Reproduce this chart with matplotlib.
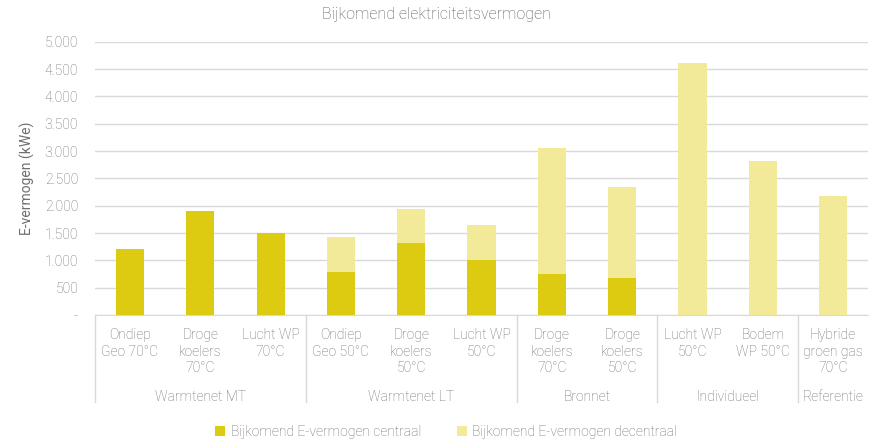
import matplotlib.pyplot as plt
import matplotlib.transforms as mtransforms
from matplotlib.ticker import FuncFormatter
import numpy as np

# data
categories = ["Ondiep\nGeo 70°C", "Droge\nkoelers\n70°C", "Lucht WP\n70°C",
              "Ondiep\nGeo 50°C", "Droge\nkoelers\n50°C", "Lucht WP\n50°C",
              "Droge\nkoelers\n70°C", "Droge\nkoelers\n50°C",
              "Lucht WP\n50°C", "Bodem\nWP 50°C",
              "Hybride\ngroen gas\n70°C"]
groups = ["Warmtenet MT", "Warmtenet LT", "Bronnet", "Individueel", "Referentie"]
group_sizes = [3, 3, 2, 2, 1]
centraal = [1210, 1900, 1500, 790, 1310, 1010, 750, 680, 0, 0, 0]
decentraal = [0, 0, 0, 630, 630, 635, 2310, 1670, 4610, 2820, 2170]

dark = '#DDCB12'
light = '#F3EA99'
text_col = '#6E6E6E'
line_col = '#D9D9D9'

plt.rcParams['font.family'] = ['Roboto', 'DejaVu Sans']
plt.rcParams['font.weight'] = 'light'

fig = plt.figure(figsize=(8.7, 4.4), dpi=100)
ax = fig.add_axes([0.109, 0.284, 0.889, 0.621])

x = np.arange(len(categories))
ax.bar(x, centraal, width=0.4, color=dark, label='Bijkomend E-vermogen centraal', zorder=3)
ax.bar(x, decentraal, width=0.4, bottom=centraal, color=light,
       label='Bijkomend E-vermogen decentraal', zorder=3)

ax.set_xlim(-0.5, len(categories) - 0.5)
ax.set_ylim(0, 5000)
ax.set_yticks(np.arange(0, 5001, 500))
ax.yaxis.set_major_formatter(FuncFormatter(
    lambda v, p: '-' if v == 0 else f'{int(v):,}'.replace(',', '.')))
ax.grid(axis='y', color=line_col, linewidth=1, zorder=0)
for s in ['top', 'right', 'left']:
    ax.spines[s].set_visible(False)
ax.spines['bottom'].set_color(line_col)
ax.tick_params(axis='y', length=0, labelsize=10, colors=text_col, pad=12)
ax.tick_params(axis='x', length=0)
ax.set_xticks(x)
ax.set_xticklabels([])

ax.set_ylabel('E-vermogen (kWe)', fontsize=10, color=text_col, labelpad=7)
fig.suptitle('Bijkomend elektriciteitsvermogen', x=0.502, y=0.985, fontsize=11.5,
             color='#595959', fontweight='light')

trans = mtransforms.blended_transform_factory(ax.transData, ax.transAxes)
for i, lab in enumerate(categories):
    ax.text(i, -0.047, lab, transform=trans, ha='center', va='top',
            fontsize=10, color=text_col, linespacing=1.25)

# group labels and separators
start = 0
bounds = [-0.5]
for g, n in zip(groups, group_sizes):
    mid = start + (n - 1) / 2
    ax.text(mid, -0.275, g, transform=trans, ha='center', va='top',
            fontsize=10, color=text_col)
    start += n
    bounds.append(start - 0.5)
for b in bounds[:-1]:
    ax.plot([b, b], [0, -0.32], transform=trans, color=line_col,
            linewidth=1, clip_on=False)

handles, labels = ax.get_legend_handles_labels()
fig.legend(handles, labels, loc='lower center', bbox_to_anchor=(0.513, -0.025), ncol=2,
           frameon=False, fontsize=10, handlelength=0.7, handleheight=0.7,
           handletextpad=0.4, columnspacing=2.6, labelcolor=text_col)

fig.savefig('out.png', dpi=100)
